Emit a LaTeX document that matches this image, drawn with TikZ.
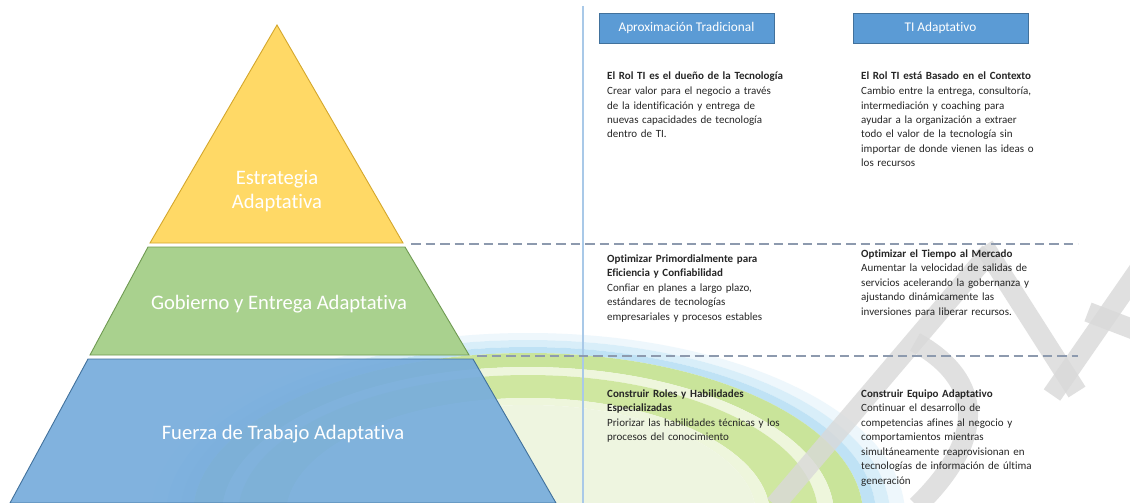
\documentclass[tikz,border=0pt]{standalone}
\usepackage{fontspec}
\setmainfont{Carlito}[Ligatures=NoCommon]
\definecolor{yelfill}{HTML}{FFD966}
\definecolor{yeledge}{HTML}{D4A72C}
\definecolor{grnfill}{HTML}{A9D18E}
\definecolor{grnedge}{HTML}{6F9A52}
\definecolor{blufill}{HTML}{78ADDC}
\definecolor{bluedge}{HTML}{41719C}
\definecolor{hdrfill}{HTML}{5B9BD5}
\definecolor{hdredge}{HTML}{41719C}
\definecolor{vline}{HTML}{A9C9E8}
\definecolor{dashc}{HTML}{8D9AAE}
\definecolor{textc}{HTML}{262626}
\definecolor{glowa}{HTML}{BFE2F5}
\definecolor{glowb}{HTML}{D8EEF9}
\definecolor{glowc}{HTML}{EEF7FC}
\definecolor{gbanda}{HTML}{C9E49A}
\definecolor{gpale}{HTML}{EEF6DC}
\definecolor{gbandb}{HTML}{CFE7A0}
\definecolor{ginner}{HTML}{EEF5E0}
\definecolor{wmark}{HTML}{D9D9D9}
\begin{document}
\begin{tikzpicture}[x=1pt,y=-1pt,
  tier/.style={line width=0.9pt},
  pyrlabel/.style={text=white,align=center,font=\fontsize{20.6}{24}\selectfont,inner sep=0pt},
  hdr/.style={fill=hdrfill,draw=hdredge,line width=0.8pt,text=white,minimum width=175pt,minimum height=30pt,inner sep=0pt,font=\fontsize{13.3}{16}\selectfont},
  block/.style={anchor=base west,inner sep=0pt,text width=260pt,align=left,text=textc,font=\fontsize{11}{14.5}\selectfont},
  sepline/.style={draw=dashc,line width=1.8pt,dash pattern=on 9.5pt off 5pt},
  ring/.style={even odd rule},
  wm/.style={draw=wmark,line width=20pt,opacity=0.8,line cap=butt}]
\useasboundingbox (0,0) rectangle (1130,503);
\fill[white] (0,0) rectangle (1130,503);
% watermark globe
\begin{scope}
\clip (0,0) rectangle (1130,503);
\coordinate (gc) at (528,515);
\fill[glowc,ring] (gc) ellipse (377 and 182) (gc) ellipse (362 and 175);
\fill[glowb,ring] (gc) ellipse (362 and 175) (gc) ellipse (348 and 168);
\fill[glowa,ring] (gc) ellipse (348 and 168) (gc) ellipse (335 and 162);
\fill[gbanda,ring] (gc) ellipse (335 and 162) (gc) ellipse (306 and 148);
\fill[gpale,ring] (gc) ellipse (306 and 148) (gc) ellipse (290 and 140);
\fill[gbandb,ring] (gc) ellipse (290 and 140) (gc) ellipse (242 and 117);
\fill[gpale,ring] (gc) ellipse (242 and 117) (gc) ellipse (228 and 110);
\fill[ginner] (gc) ellipse (228 and 110);
% watermark letters
\draw[wm] (775,505) -- (990,252);
\draw[wm] (984,246) -- (1077,392);
\draw[wm] (1052,395) -- (1140,268);
\draw[wm] (915,342) .. controls (975,375) and (995,430) .. (917,506);
\draw[wm] (1088,312) -- (1135,330);
\end{scope}
% pyramid
\draw[tier,fill=yelfill,draw=yeledge] (277,25) -- (403,243) -- (150,243) -- cycle;
\draw[tier,fill=grnfill,draw=grnedge] (148,247) -- (405,247) -- (469,355) -- (90,355) -- cycle;
\draw[tier,fill=blufill,draw=bluedge,fill opacity=0.93] (88,359) -- (473,359) -- (556,503) -- (10,503) -- cycle;
\node[pyrlabel] (lblS) at (277,191) {Estrategia\\Adaptativa};
\node[pyrlabel] (lblG) at (279,304) {Gobierno y Entrega Adaptativa};
\node[pyrlabel] (lblF) at (283,434) {Fuerza de Trabajo Adaptativa};
% divider
\draw[vline,line width=1.2pt] (583,6) -- (583,503);
% separators
\coordinate (s1a) at (411,244);
\coordinate (s1b) at (1078,244);
\coordinate (s2a) at (477,356);
\coordinate (s2b) at (1078,356);
\draw[sepline] (s1a) -- (s1b);
\draw[sepline] (s2a) -- (s2b);
% headers
\node[hdr] (h1) at (686.5,28) {Aproximación Tradicional};
\node[hdr] (h2) at (940.5,28) {TI Adaptativo};
% text blocks
\node[block] (tl) at (607,80) {\textbf{El Rol TI es el dueño de la Tecnología}\\Crear valor para el negocio a través\\de la identificación y entrega de\\nuevas capacidades de tecnología\\dentro de TI.};
\node[block] (tr) at (861,80) {\textbf{El Rol TI está Basado en el Contexto}\\Cambio entre la entrega, consultoría,\\intermediación y coaching para\\ayudar a la organización a extraer\\todo el valor de la tecnología sin\\importar de donde vienen las ideas o\\los recursos};
\node[block] (ml) at (607,262) {\textbf{Optimizar Primordialmente para}\\\textbf{Eficiencia y Confiabilidad}\\Confiar en planes a largo plazo,\\estándares de tecnologías\\empresariales y procesos estables};
\node[block] (mr) at (861,257) {\textbf{Optimizar el Tiempo al Mercado}\\Aumentar la velocidad de salidas de\\servicios acelerando la gobernanza y\\ajustando dinámicamente las\\inversiones para liberar recursos.};
\node[block] (bl) at (607,397) {\textbf{Construir Roles y Habilidades}\\\textbf{Especializadas}\\Priorizar las habilidades técnicas y los\\procesos del conocimiento};
\node[block] (br) at (861,397) {\textbf{Construir Equipo Adaptativo}\\Continuar el desarrollo de\\competencias afines al negocio y\\comportamientos mientras\\simultáneamente reaprovisionan en\\tecnologías de información de última\\generación};
\end{tikzpicture}
\end{document}
